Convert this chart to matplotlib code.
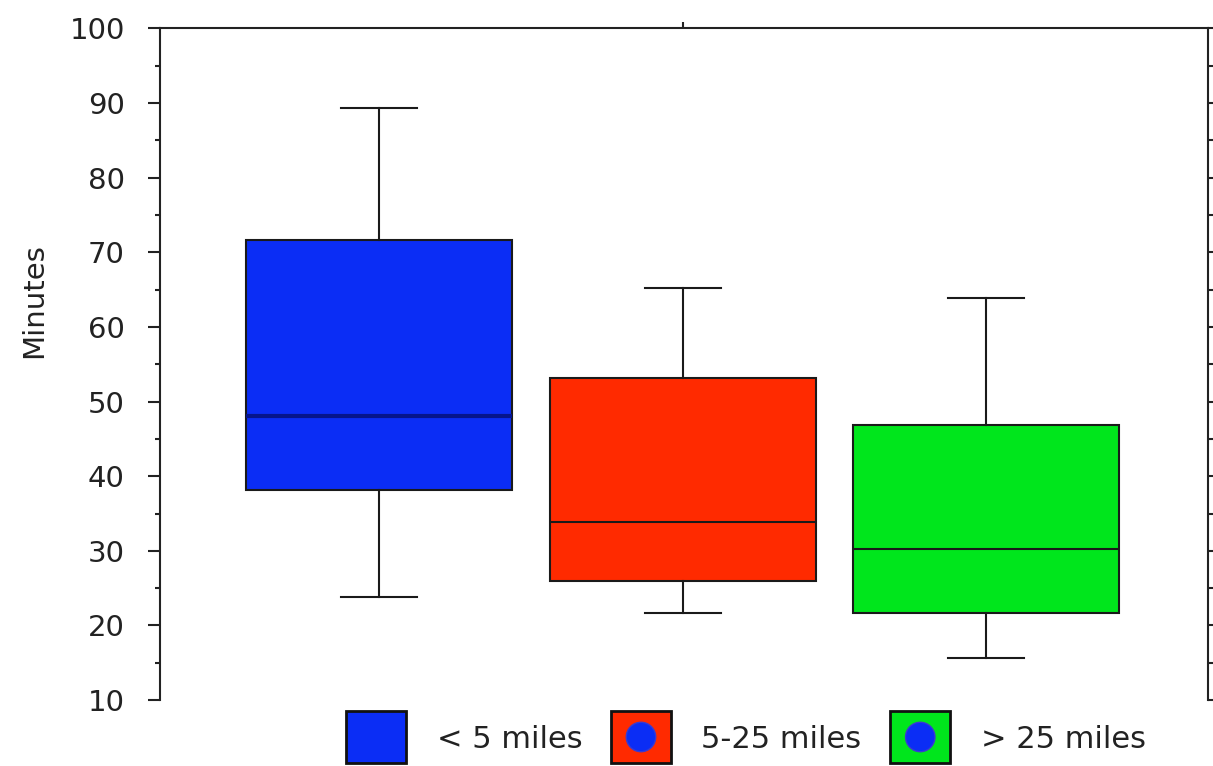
import matplotlib
matplotlib.use("Agg")
import matplotlib.pyplot as plt
from matplotlib.patches import Rectangle, Circle
from matplotlib.legend_handler import HandlerBase
from matplotlib.ticker import MultipleLocator

# Commute time by distance band (minutes)
groups = ["< 5 miles", "5-25 miles", "> 25 miles"]
whisker_low = [23.8, 21.7, 15.7]
q1 = [38.2, 26.0, 21.7]
median = [48.1, 33.9, 30.3]
q3 = [71.6, 53.2, 46.8]
whisker_high = [89.3, 65.2, 63.9]
y_ticks = [10, 20, 30, 40, 50, 60, 70, 80, 90, 100]

fill_colors = ["#0b2df5", "#ff2a00", "#00e61c"]
median_colors = ["#06158c", "#1a1a1a", "#1a1a1a"]
median_widths = [3.0, 1.5, 1.5]
dot_color = "#0b2df5"
legend_dots = [False, True, True]


class SwatchHandler(HandlerBase):
    """Square colour swatch, optionally with a round dot in its centre."""

    def __init__(self, face, dot, rel_height=1.72):
        super().__init__()
        self.face = face
        self.dot = dot
        self.rel_height = rel_height

    def create_artists(self, legend, orig_handle, xdescent, ydescent,
                       width, height, fontsize, trans):
        h = fontsize * self.rel_height
        x0 = -xdescent
        yc = -ydescent + height / 2
        arts = [Rectangle((x0, yc - h / 2), width, h, facecolor=self.face,
                          edgecolor="#111111", linewidth=2, transform=trans)]
        if self.dot:
            r = 0.28 * min(width, h)
            arts.append(Circle((x0 + width / 2, yc), r,
                               facecolor=dot_color, edgecolor="#3a3ad0",
                               linewidth=1.0, transform=trans))
        return arts


plt.rcParams["font.family"] = ["DejaVu Sans"]
fig = plt.figure(figsize=(12.13, 7.66), dpi=100)
ax = fig.add_axes([0.132, 0.086, 0.864, 0.877])

stats = []
for i, name in enumerate(groups):
    stats.append(dict(label=name, whislo=whisker_low[i], q1=q1[i], med=median[i],
                      q3=q3[i], whishi=whisker_high[i], fliers=[]))

positions = list(range(1, len(groups) + 1))
bp = ax.bxp(stats, positions=positions, widths=0.875, capwidths=0.25,
            patch_artist=True, showfliers=False,
            boxprops=dict(edgecolor="#1a1a1a", linewidth=1.5),
            whiskerprops=dict(color="#1a1a1a", linewidth=1.5),
            capprops=dict(color="#1a1a1a", linewidth=1.5))
for box, fc in zip(bp["boxes"], fill_colors):
    box.set_facecolor(fc)
for med, mc, mw in zip(bp["medians"], median_colors, median_widths):
    med.set_color(mc)
    med.set_linewidth(mw)

ax.set_xlim(0.28, 3.73)
ax.set_ylim(10, 100)
ax.set_yticks(y_ticks)
ax.yaxis.set_minor_locator(MultipleLocator(5))
ax.tick_params(axis="y", which="major", direction="out", length=8.5, width=1.5,
               labelsize=21, pad=17, colors="#222222", labelcolor="#222222",
               right=True, labelright=False)
ax.tick_params(axis="y", which="minor", direction="out", length=3.5, width=1.5,
               right=True, colors="#222222")

# single category tick on the top edge, none at the bottom
ax.set_xticks([2])
ax.set_xticklabels([])
ax.tick_params(axis="x", which="major", direction="out", length=4, width=1.5,
               top=True, bottom=False, labeltop=False, labelbottom=False,
               colors="#222222")

for side in ["left", "right", "top"]:
    ax.spines[side].set_linewidth(1.5)
    ax.spines[side].set_color("#222222")
ax.spines["bottom"].set_visible(False)

ax.set_ylabel("Minutes", fontsize=21, color="#222222")
ax.yaxis.set_label_coords(-0.107, 0.595)

# legend built from one proxy per group with its own swatch handler
proxies = [Rectangle((0, 0), 1, 1) for _ in groups]
hmap = {p: SwatchHandler(fc, d) for p, fc, d in zip(proxies, fill_colors, legend_dots)}
fig.legend(proxies, groups, loc="center", bbox_to_anchor=(0.615, 0.035),
           ncol=3, frameon=False, fontsize=22, handlelength=1.95,
           handletextpad=1.0, columnspacing=0.95, borderpad=0, labelcolor="#222222",
           handler_map=hmap)

fig.savefig("out.png", dpi=100, facecolor="white")
